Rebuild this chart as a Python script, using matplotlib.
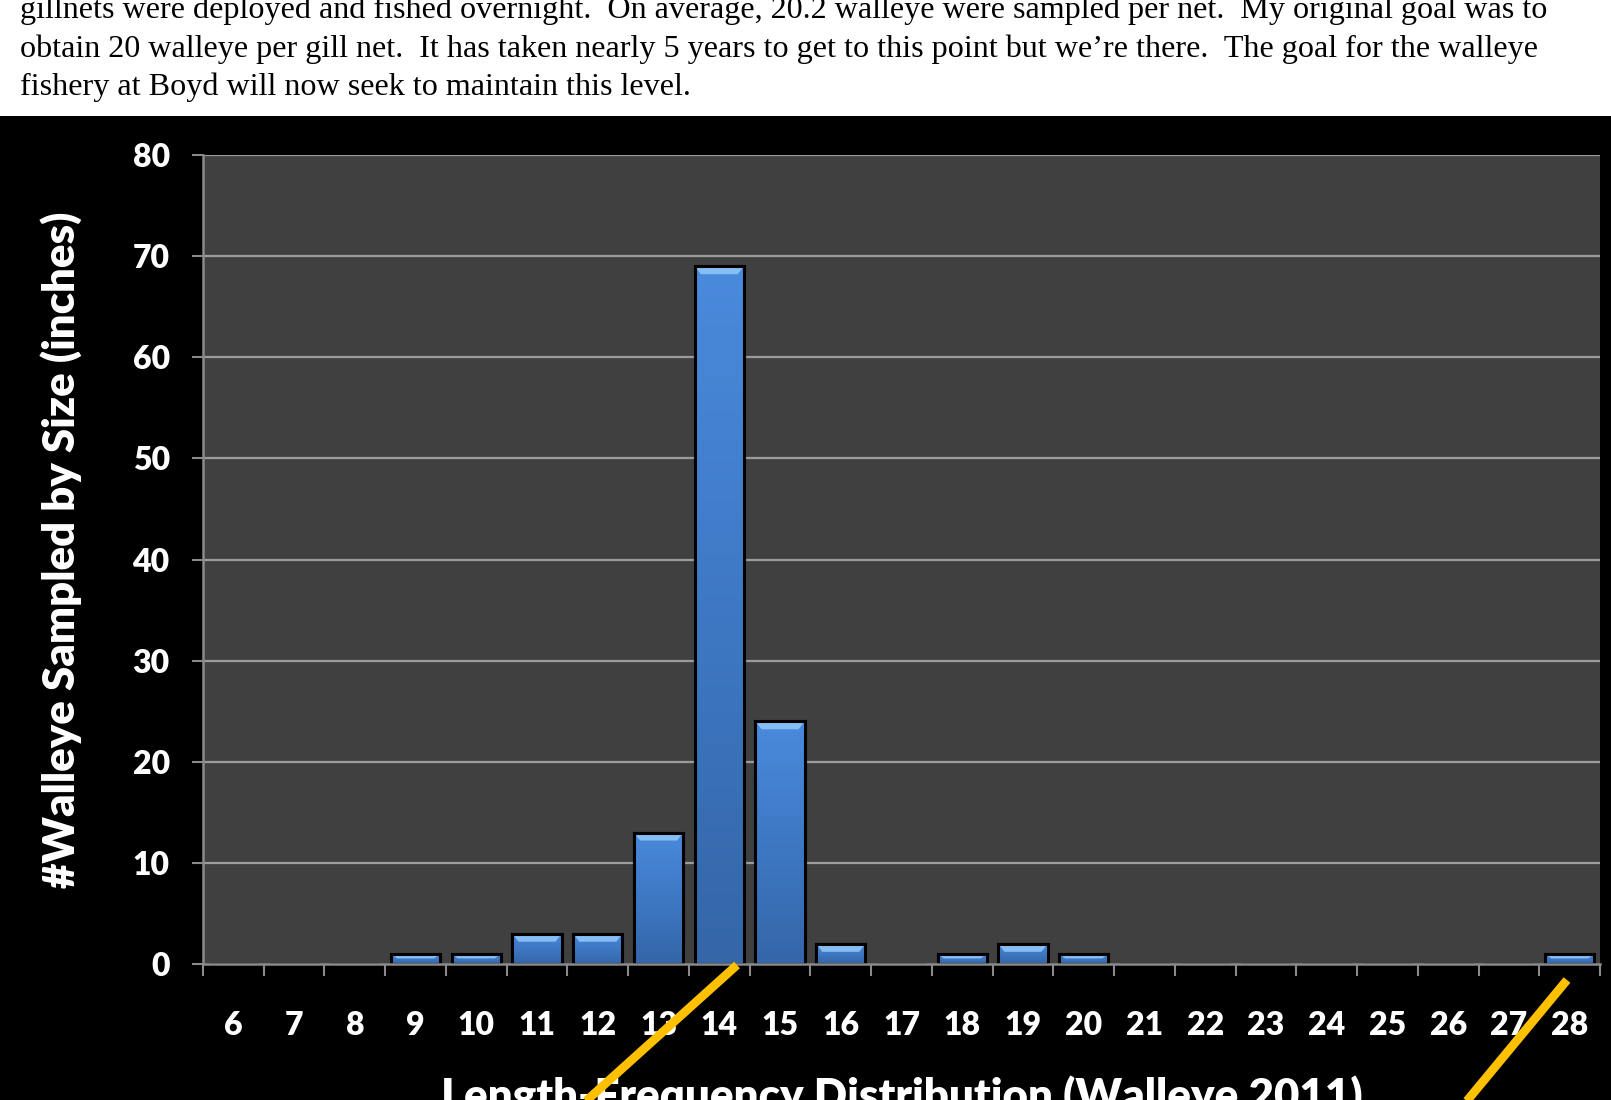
import matplotlib
matplotlib.use("Agg")
import matplotlib.pyplot as plt
import numpy as np
from matplotlib.patches import Rectangle, Polygon
from matplotlib.lines import Line2D
from matplotlib.colors import LinearSegmentedColormap

# ---------------- data ----------------
lengths = [6, 7, 8, 9, 10, 11, 12, 13, 14, 15, 16, 17, 18, 19, 20, 21, 22, 23, 24, 25, 26, 27, 28]
counts = [0, 0, 0, 1, 1, 3, 3, 13, 69, 24, 2, 0, 1, 2, 1, 0, 0, 0, 0, 0, 0, 0, 1]
y_ticks = [0, 10, 20, 30, 40, 50, 60, 70, 80]
y_label = "#Walleye Sampled by Size (inches)"
x_title = "Length-Frequency Distribution (Walleye 2011)"
para_lines = [
    "gillnets were deployed and fished overnight.  On average, 20.2 walleye were sampled per net.  My original goal was to",
    "obtain 20 walleye per gill net.  It has taken nearly 5 years to get to this point but we\u2019re there.  The goal for the walleye",
    "fishery at Boyd will now seek to maintain this level.",
]

W, H = 1611, 1100
fig = plt.figure(figsize=(W / 100, H / 100), dpi=100, facecolor="black")

# white page area with paragraph text
fig.patches.append(Rectangle((0, 1 - 116 / H), 1, 116 / H, transform=fig.transFigure,
                             facecolor="white", edgecolor="none", zorder=0))
baselines = [18, 57, 95]
for txt, b in zip(para_lines, baselines):
    fig.text(20 / W, 1 - b / H, txt, family="Liberation Serif", fontsize=23.1,
             color="black", ha="left", va="baseline")

# chart axes
ax = fig.add_axes([203 / W, (H - 964) / H, (1600 - 203) / W, (964 - 155) / H])
ax.set_facecolor("#404040")
x = np.arange(len(lengths))
ax.set_xlim(-0.5, len(lengths) - 0.5)
ax.set_ylim(0, 80)

for yv in y_ticks[1:]:
    ax.axhline(yv, color="#9C9C9C", lw=1.6, zorder=1)

bars = ax.bar(x, counts, width=0.81, facecolor="#4280D0", edgecolor="black",
              linewidth=2.2, zorder=3)

grad = np.linspace(0, 1, 256).reshape(-1, 1)
cmap = LinearSegmentedColormap.from_list("b", ["#3466A8", "#3E78C4", "#4A8ADC"])
px_per_unit = (964 - 155) / 80.0
for b in bars:
    h = b.get_height()
    if h <= 0:
        continue
    x0, w = b.get_x(), b.get_width()
    im = ax.imshow(grad, extent=(x0, x0 + w, 0, h), origin="lower", cmap=cmap,
                   aspect="auto", zorder=3.1, interpolation="bilinear")
    im.set_clip_path(b)
    bh = min(8 / px_per_unit, h * 0.45)
    d = 0.1
    poly = Polygon([(x0, h), (x0 + w, h), (x0 + w - d, h - bh), (x0 + d, h - bh)],
                   closed=True, facecolor="#86BDF3", edgecolor="none", zorder=3.2)
    ax.add_patch(poly)
    poly.set_clip_path(b)
    edge = Rectangle((x0, 0), w, h, facecolor="none", edgecolor="black", lw=2.2, zorder=3.3)
    ax.add_patch(edge)

ax.set_xlim(-0.5, len(lengths) - 0.5)
ax.set_ylim(0, 80)

for s in ["top", "right"]:
    ax.spines[s].set_visible(False)
for s in ["left", "bottom"]:
    ax.spines[s].set_color("#8A8A8A")
    ax.spines[s].set_linewidth(1.8)
    ax.spines[s].set_zorder(4)

ax.set_yticks(y_ticks)
ax.set_yticklabels([str(v) for v in y_ticks])
ax.tick_params(axis="y", direction="out", length=8, width=1.5, color="#8A8A8A",
               pad=16, labelcolor="white", labelsize=23)
ax.set_xticks(np.arange(-0.5, len(lengths)), minor=False)
ax.set_xticklabels([])
ax.set_xticks(x, minor=True)
ax.set_xticklabels([str(v) for v in lengths], minor=True)
ax.tick_params(axis="x", which="major", direction="out", length=8.5, width=1.5, color="#8A8A8A")
ax.tick_params(axis="x", which="minor", length=0, pad=34, labelcolor="white", labelsize=23)
for lab in ax.get_xticklabels(minor=True) + ax.get_yticklabels():
    lab.set_fontfamily("Lato")
    lab.set_fontweight("heavy")

fig.text(61 / W, 1 - 549.5 / H, y_label, rotation=90, ha="center", va="center",
         color="white", family="Lato", fontweight="heavy", fontsize=31.5)
fig.text(902 / W, 1 - 1111 / H, x_title, ha="center", va="baseline",
         color="white", family="Lato", fontweight="heavy", fontsize=31.6)

# yellow annotation strokes
for (x1, y1, x2, y2) in [(737, 965, 585, 1102), (1567, 980, 1466, 1102)]:
    fig.add_artist(Line2D([x1 / W, x2 / W], [1 - y1 / H, 1 - y2 / H], transform=fig.transFigure,
                          color="#FFC000", lw=6.3, solid_capstyle="butt", zorder=10))

fig.savefig("out.png", dpi=100, facecolor="black")
